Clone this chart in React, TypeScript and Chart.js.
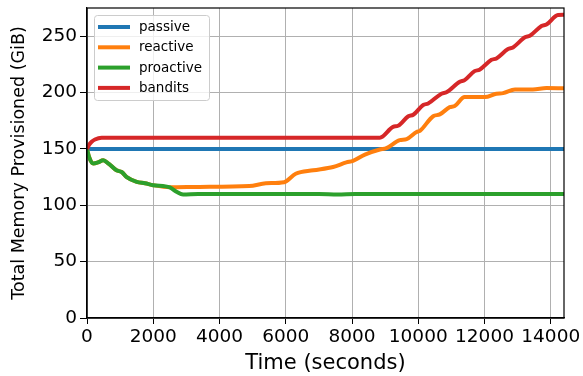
import React, { useEffect, useRef } from "react";
import { Chart, registerables } from "chart.js";

Chart.register(...registerables);

const FONT = "'DejaVu Sans', sans-serif";

// Time axis (seconds) and memory provisioned (GiB) for each strategy
const passiveTime = [0, 14400];
const passiveMem = [150, 150];

const reactiveTime = [0, 60, 190, 330, 490, 650, 890, 1045, 1200, 1500, 1750, 2000, 2500, 3400, 4900, 5400, 5950, 6300, 6830, 7430, 7830, 8030, 8390, 8840, 9040, 9440, 9650, 9950, 10050, 10450, 10650, 10950, 11100, 11400, 12010, 12360, 12560, 12920, 13460, 13870, 14400];
const reactiveMem = [150, 143, 137, 138, 140, 137, 131, 129.5, 125, 120.8, 119.5, 117.8, 116, 116.3, 117, 119.5, 120.5, 128, 131, 134, 138, 139.4, 145, 149.5, 150.7, 157.8, 158.7, 165, 166, 179, 180.6, 187, 188, 196, 196, 199, 199.5, 202.8, 202.8, 204, 203.7];

const proactiveTime = [0, 60, 190, 330, 490, 650, 890, 1045, 1200, 1500, 1750, 2000, 2500, 2700, 2900, 3360, 7000, 7570, 8100, 14400];
const proactiveMem = [150, 143, 137, 138, 140, 137, 131, 129.5, 125, 120.8, 119.5, 117.8, 115.8, 112, 109.5, 110, 110, 109.5, 110, 110];

const banditsTime = [0, 60, 140, 240, 443, 8840, 9240, 9390, 9700, 9850, 10150, 10300, 10700, 10850, 11255, 11400, 11700, 11850, 12210, 12360, 12710, 12860, 13220, 13370, 13720, 13870, 14220, 14400];
const banditsMem = [150, 153.5, 156.3, 158.4, 160, 160, 169.6, 170.5, 179, 180.3, 189, 190.3, 199, 200.3, 209.6, 211, 219, 220.3, 229, 230.3, 238.6, 240, 249, 250.3, 259, 260.3, 268.8, 269];

const seriesNames = ["passive", "reactive", "proactive", "bandits"];
const seriesColors = ["#1f77b4", "#ff7f0e", "#2ca02c", "#d62728"];

const xTicks = [0, 2000, 4000, 6000, 8000, 10000, 12000, 14000];
const xMax = 14400;
const yTicks = [0, 50, 100, 150, 200, 250];
const yMax = 275;

const zip = (xs: number[], ys: number[]) => xs.map((x, i) => ({ x, y: ys[i] }));

// Frame around the plot area plus an in-plot legend box
const framePlugin = {
  id: "frameAndLegend",
  afterDraw(chart: any) {
    const { ctx, chartArea } = chart;
    const { left, top, right, bottom } = chartArea;
    ctx.save();
    ctx.strokeStyle = "#000";
    ctx.lineWidth = 1.2;
    ctx.strokeRect(left, top, right - left, bottom - top);

    const bx = left + 7;
    const by = top + 7;
    const bw = 115;
    const bh = 85;
    ctx.beginPath();
    (ctx as any).roundRect(bx + 0.5, by + 0.5, bw, bh, 3);
    ctx.fillStyle = "rgba(255,255,255,0.8)";
    ctx.fill();
    ctx.strokeStyle = "#cccccc";
    ctx.lineWidth = 1;
    ctx.stroke();

    ctx.font = `13.5px ${FONT}`;
    ctx.textBaseline = "middle";
    ctx.textAlign = "left";
    const rowStart = by + 12;
    const rowGap = 20.3;
    chart.data.datasets.forEach((ds: any, i: number) => {
      const y = rowStart + i * rowGap;
      ctx.beginPath();
      ctx.strokeStyle = ds.borderColor;
      ctx.lineWidth = 4;
      ctx.moveTo(bx + 4, y);
      ctx.lineTo(bx + 36, y);
      ctx.stroke();
      ctx.fillStyle = "#000";
      ctx.fillText(ds.label, bx + 45, y + 0.5);
    });
    ctx.restore();
  },
};

export default function App() {
  const canvasRef = useRef<HTMLCanvasElement | null>(null);

  useEffect(() => {
    if (!canvasRef.current) return;
    const series = [
      zip(passiveTime, passiveMem),
      zip(reactiveTime, reactiveMem),
      zip(proactiveTime, proactiveMem),
      zip(banditsTime, banditsMem),
    ];
    const chart = new Chart(canvasRef.current, {
      type: "scatter",
      data: {
        datasets: series.map((data, i) => ({
          label: seriesNames[i],
          data,
          showLine: true,
          borderColor: seriesColors[i],
          backgroundColor: seriesColors[i],
          borderWidth: 4,
          pointRadius: 0,
          fill: false,
          cubicInterpolationMode: "monotone" as const,
          borderJoinStyle: "round" as const,
          order: seriesNames.length - i,
        })),
      },
      options: {
        animation: false,
        responsive: false,
        devicePixelRatio: 1,
        layout: { padding: { top: 8, right: 19, left: 0, bottom: 0 } },
        plugins: { legend: { display: false }, tooltip: { enabled: false } },
        scales: {
          x: {
            type: "linear",
            min: 0,
            max: xMax,
            afterBuildTicks: (s: any) => {
              s.ticks = xTicks.map((value) => ({ value }));
            },
            ticks: {
              autoSkip: false,
              maxRotation: 0,
              color: "#000",
              padding: 2,
              font: { family: FONT, size: 18.5 },
              callback: (v: any) => String(v),
            },
            grid: { color: "#b0b0b0", lineWidth: 1, tickColor: "#000", tickLength: 6 },
            border: { color: "#000", width: 1.2 },
            title: {
              display: true,
              text: "Time (seconds)",
              color: "#000",
              font: { family: FONT, size: 21 },
              padding: { top: 0, bottom: 0 },
            },
            afterFit: (s: any) => {
              s.height = 58;
              s.paddingLeft = 0;
              s.paddingRight = 0;
            },
          },
          y: {
            type: "linear",
            min: 0,
            max: yMax,
            afterBuildTicks: (s: any) => {
              s.ticks = yTicks.map((value) => ({ value }));
            },
            ticks: {
              autoSkip: false,
              color: "#000",
              padding: 3,
              font: { family: FONT, size: 18.5 },
              callback: (v: any) => String(v),
            },
            grid: { color: "#b0b0b0", lineWidth: 1, tickColor: "#000", tickLength: 7 },
            border: { color: "#000", width: 1.2 },
            title: {
              display: true,
              text: "Total Memory Provisioned (GiB)",
              color: "#000",
              font: { family: FONT, size: 17.5 },
              padding: { top: 9, bottom: 0 },
            },
            afterFit: (s: any) => {
              s.width = 87;
              s.paddingTop = 0;
              s.paddingBottom = 0;
            },
          },
        },
      },
      plugins: [framePlugin],
    });
    return () => chart.destroy();
  }, []);

  return (
    <div style={{ position: "absolute", left: 0, top: 0, width: 583, height: 376, background: "#fff" }}>
      <canvas ref={canvasRef} width={583} height={376} style={{ display: "block" }} />
    </div>
  );
}
